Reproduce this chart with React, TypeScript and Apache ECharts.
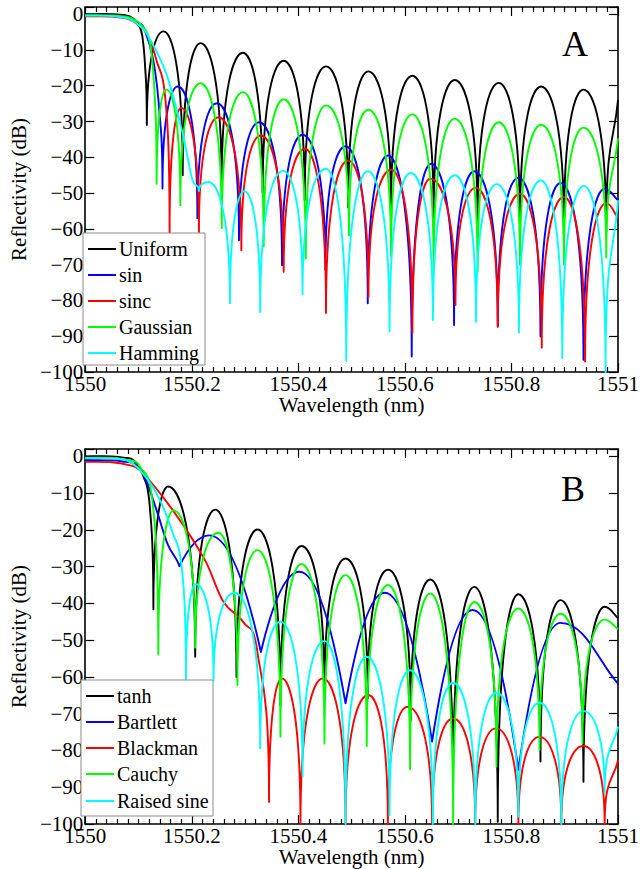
import React, { useEffect, useRef } from 'react';
import * as echarts from 'echarts';

// ---------- Panel A (peaks / nulls) ----------
const uniformX = [1550, 1550.05, 1550.075, 1550.09, 1550.1, 1550.107, 1550.1125, 1550.1156, 1550.147, 1550.183, 1550.2165, 1550.256, 1550.296, 1550.333, 1550.3725, 1550.412, 1550.452, 1550.4936, 1550.5315, 1550.574, 1550.614, 1550.654, 1550.6936, 1550.7364, 1550.776, 1550.816, 1550.8556, 1550.8985, 1550.935, 1550.978, 1551];
const uniformY = [0, 0, -0.3, -1.2, -3, -6, -15, -31, -4.8, -45, -8.1, -48, -10.8, -50, -13, -52, -14.6, -54, -16, -55, -17.2, -57, -18.4, -58, -19.2, -59, -20.2, -60, -21.1, -61, -24];

const sinX = [1550, 1550.05, 1550.08, 1550.1, 1550.1095, 1550.1279, 1550.14, 1550.145, 1550.1738, 1550.2105, 1550.2472, 1550.2886, 1550.3266, 1550.3694, 1550.4079, 1550.4508, 1550.4886, 1550.5303, 1550.5683, 1550.6128, 1550.649, 1550.6923, 1550.7303, 1550.7743, 1550.8128, 1550.8545, 1550.8923, 1550.9352, 1550.9749, 1551];
const sinY = [-0.5, -0.55, -1.2, -2.5, -3.7, -13, -28.8, -48.7, -20.2, -57, -24.9, -63.2, -30.2, -70.2, -33.7, -71.5, -36.9, -80.8, -39.5, -95.7, -41.8, -86.9, -43.9, -87.2, -45.7, -90.1, -47.2, -96.6, -48.8, -52];

const sincX = [1550, 1550.05, 1550.08, 1550.1, 1550.1156, 1550.134, 1550.1523, 1550.1583, 1550.1798, 1550.2134, 1550.2501, 1550.293, 1550.3297, 1550.3725, 1550.4123, 1550.4519, 1550.4936, 1550.5316, 1550.5743, 1550.6141, 1550.6477, 1550.6949, 1550.733, 1550.7743, 1550.816, 1550.8569, 1550.8985, 1550.9382, 1550.978, 1551];
const sincY = [-0.6, -0.65, -1.3, -3, -5.5, -13, -27, -61.2, -26.2, -60.9, -28.8, -66, -33.9, -72, -37.6, -83.5, -40.9, -79, -43.5, -89, -46, -81.3, -48.5, -87.4, -50.2, -93.2, -51.1, -97.1, -52.8, -57];

const gaussX = [1550, 1550.05, 1550.08, 1550.095, 1550.1033, 1550.1217, 1550.1308, 1550.134, 1550.1523, 1550.1785, 1550.2165, 1550.2563, 1550.296, 1550.335, 1550.3725, 1550.414, 1550.452, 1550.495, 1550.5315, 1550.574, 1550.614, 1550.654, 1550.6936, 1550.7364, 1550.776, 1550.816, 1550.8556, 1550.8985, 1550.935, 1550.978, 1551];
const gaussY = [-0.3, -0.35, -0.8, -1.8, -2.7, -8.3, -24, -47.4, -21.1, -53.4, -19.3, -59.8, -21.8, -64.9, -23.8, -68.3, -25.5, -61.8, -26.7, -67.6, -28, -71.5, -29.2, -72, -30.2, -70, -30.9, -70, -31.7, -68, -34.7];

const hammX = [1550, 1550.05, 1550.08, 1550.1, 1550.1156, 1550.1523, 1550.1829, 1550.2013, 1550.2134, 1550.2317, 1550.2716, 1550.2991, 1550.3284, 1550.3712, 1550.4079, 1550.4519, 1550.4899, 1550.5303, 1550.5712, 1550.611, 1550.6526, 1550.6936, 1550.7334, 1550.7725, 1550.8141, 1550.855, 1550.8954, 1550.9358, 1550.9767, 1551];
const hammY = [-0.4, -0.5, -1.2, -3, -5.5, -16.7, -33.4, -46.4, -49.4, -46.9, -80.8, -49.5, -83.2, -43.8, -78.3, -43.2, -96.9, -43.9, -88.7, -44.4, -85.5, -45, -86, -47.5, -89, -46.5, -96.2, -48, -100, -52];

// ---------- Panel B ----------
const tanhX = [1550, 1550.05, 1550.075, 1550.091, 1550.1095, 1550.1217, 1550.1279, 1550.1554, 1550.2064, 1550.244, 1550.2839, 1550.3235, 1550.3664, 1550.406, 1550.449, 1550.4886, 1550.5303, 1550.5683, 1550.611, 1550.6477, 1550.6905, 1550.7303, 1550.7743, 1550.8128, 1550.8545, 1550.8923, 1550.9352, 1550.9749, 1551];
const tanhY = [0, 0, -0.4, -1.1, -5.6, -14.7, -41.6, -8.2, -54.5, -14.5, -60, -19.9, -67.7, -24.4, -65, -27.8, -65.8, -30.8, -71.7, -33.5, -89.4, -35.5, -99.4, -37.5, -83, -39.1, -88.5, -40.9, -44];

const bartX = [1550, 1550.05, 1550.07, 1550.091, 1550.11, 1550.134, 1550.155, 1550.1767, 1550.233, 1550.3297, 1550.402, 1550.4886, 1550.562, 1550.651, 1550.727, 1550.813, 1550.892, 1551];
const bartY = [-1, -1.1, -1.4, -2, -5, -14.7, -24, -29.9, -21.5, -53.2, -31.4, -67.2, -37.1, -77.6, -41.8, -85.3, -45.3, -61.8];

const blackmanX = [1550, 1550.05, 1550.08, 1550.103, 1550.1646, 1550.2257, 1550.259, 1550.299, 1550.3235, 1550.345, 1550.369, 1550.404, 1550.446, 1550.4886, 1550.5315, 1550.568, 1550.605, 1550.651, 1550.6905, 1550.732, 1550.771, 1550.813, 1550.8526, 1550.8936, 1550.935, 1550.975, 1551];
const blackmanY = [-1.5, -1.6, -2.3, -3.8, -14.7, -28.5, -39.5, -45.5, -53.6, -94, -60.4, -100, -60.4, -100, -64.9, -100, -68.1, -100, -71.3, -100, -74, -100, -76.3, -100, -78.8, -100, -82.6];

const cauchyX = [1550, 1550.05, 1550.08, 1550.103, 1550.128, 1550.1371, 1550.166, 1550.2064, 1550.2501, 1550.2857, 1550.3235, 1550.3664, 1550.406, 1550.449, 1550.4886, 1550.5284, 1550.5683, 1550.6097, 1550.6477, 1550.6905, 1550.7303, 1550.7719, 1550.8128, 1550.8527, 1550.8923, 1550.9334, 1550.9749, 1551];
const cauchyY = [-0.4, -0.45, -1, -2.9, -14.7, -53.9, -14.7, -52, -20.8, -62.2, -25.5, -76.3, -29.3, -78.1, -32.3, -78.8, -35, -85.1, -37.3, -100, -39.6, -84.4, -41.4, -79.9, -42.8, -78.1, -44.4, -47];

const raisedX = [1550, 1550.05, 1550.08, 1550.103, 1550.134, 1550.1646, 1550.1829, 1550.189, 1550.2073, 1550.2409, 1550.2807, 1550.3284, 1550.3664, 1550.4079, 1550.449, 1550.4886, 1550.5284, 1550.5712, 1550.6097, 1550.6526, 1550.6905, 1550.7321, 1550.7719, 1550.8128, 1550.8527, 1550.8936, 1550.9352, 1550.9749, 1551];
const raisedY = [-0.5, -0.55, -1.2, -3.8, -10.1, -21, -32.8, -60.9, -34.8, -60.9, -37.1, -79.4, -45, -87, -50.2, -100, -54.5, -97.6, -58.2, -100, -61.6, -100, -64.3, -98, -67, -100, -69.3, -91.7, -73.5];

const legendA = ['Uniform', 'sin', 'sinc', 'Gaussian', 'Hamming'];
const legendB = ['tanh', 'Bartlett', 'Blackman', 'Cauchy', 'Raised sine'];
const colors = ['#000000', '#0000ff', '#ff0000', '#00ff00', '#00ffff'];

const xTickLabels = ['1550', '1550.2', '1550.4', '1550.6', '1550.8', '1551'];

const FONT = 'Liberation Serif';

// Rendering style only: rounded peaks and narrow nulls between the read points.
function lobePath(pts: number[][], vals: number[], a: number, b: number, c: number): string {
  const n = pts.length;
  const kind = vals.map((v, i) =>
    i === 0 || i === n - 1 ? 0 : v > vals[i - 1] && v > vals[i + 1] ? 1 : v < vals[i - 1] && v < vals[i + 1] ? -1 : 0
  );
  const slope = (i: number) => {
    const p = pts[Math.max(0, i - 1)];
    const q = pts[Math.min(n - 1, i + 1)];
    const dx = q[0] - p[0];
    return dx === 0 ? 0 : (q[1] - p[1]) / dx;
  };
  const r = (v: number) => v.toFixed(2);
  let d = `M${r(pts[0][0])} ${r(pts[0][1])}`;
  for (let i = 0; i < n - 1; i++) {
    const P = pts[i];
    const Q = pts[i + 1];
    const dx = Q[0] - P[0];
    const dy = Q[1] - P[1];
    let c1x: number, c1y: number, c2x: number, c2y: number;
    if (kind[i] === 1) { c1x = P[0] + c * dx; c1y = P[1]; }
    else if (kind[i] === -1) { c1x = P[0] + a * dx; c1y = P[1] + b * dy; }
    else { const m = slope(i); c1x = P[0] + dx / 3; c1y = P[1] + (m * dx) / 3; }
    if (kind[i + 1] === 1) { c2x = Q[0] - c * dx; c2y = Q[1]; }
    else if (kind[i + 1] === -1) { c2x = Q[0] - a * dx; c2y = Q[1] - b * dy; }
    else { const m = slope(i + 1); c2x = Q[0] - dx / 3; c2y = Q[1] - (m * dx) / 3; }
    d += ` C${r(c1x)} ${r(c1y)} ${r(c2x)} ${r(c2y)} ${r(Q[0])} ${r(Q[1])}`;
  }
  return d;
}

function makeSeries(name: string, xs: number[], ys: number[], color: string, axis: number, a: number, b: number, c: number) {
  const data = xs.map((x, i) => [x, ys[i]]);
  return {
    type: 'custom',
    name,
    xAxisIndex: axis,
    yAxisIndex: axis,
    data,
    silent: true,
    renderItem: (params: any, api: any) => {
      if (params.dataIndex !== 0) return null;
      const pts = data.map((d) => api.coord(d));
      return {
        type: 'path',
        shape: { pathData: lobePath(pts, ys, a, b, c) },
        style: { fill: 'none', stroke: color, lineWidth: 1.9, lineJoin: 'round' },
      };
    },
  };
}

function xAxisDef(grid: number, pos: string, labels: boolean) {
  return {
    type: 'value',
    gridIndex: grid,
    position: pos,
    min: 1550,
    max: 1551,
    interval: 0.2,
    axisLine: { show: true, onZero: false, lineStyle: { color: '#000', width: 1.6 } },
    axisTick: { show: true, inside: true, length: 9, lineStyle: { color: '#000', width: 1.2 } },
    minorTick: { show: true, splitNumber: 10, length: 5, lineStyle: { color: '#000', width: 1.2 } },
    splitLine: { show: false },
    minorSplitLine: { show: false },
    axisLabel: labels
      ? {
          show: true,
          margin: 1,
          color: '#000',
          fontFamily: FONT,
          fontSize: 21,
          showMinLabel: true,
          showMaxLabel: true,
          formatter: (v: number) => xTickLabels[Math.round((v - 1550) / 0.2)] ?? '',
        }
      : { show: false },
    name: labels ? 'Wavelength (nm)' : '',
    nameLocation: 'middle',
    nameGap: 20,
    nameTextStyle: { color: '#000', fontFamily: FONT, fontSize: 21 },
  };
}

function yAxisDef(grid: number, pos: string, labels: boolean) {
  return {
    type: 'value',
    gridIndex: grid,
    position: pos,
    min: -100,
    max: 2,
    interval: 10,
    axisLine: { show: true, onZero: false, lineStyle: { color: '#000', width: 1.6 } },
    axisTick: { show: true, inside: true, length: 9, lineStyle: { color: '#000', width: 1.2 } },
    splitLine: { show: false },
    axisLabel: labels
      ? {
          show: true,
          margin: 2,
          color: '#000',
          fontFamily: FONT,
          fontSize: 21,
          formatter: (v: number) => (v > 0 ? '' : v < 0 ? '\u2212' + Math.abs(v) : '0'),
        }
      : { show: false },
    name: labels ? 'Reflectivity (dB)' : '',
    nameLocation: 'middle',
    nameRotate: 90,
    nameGap: 50,
    nameTextStyle: { color: '#000', fontFamily: FONT, fontSize: 21 },
  };
}

function legendGraphic(x: number, y: number, w: number, h: number, rows: number[], names: string[]) {
  const els: any[] = [
    { type: 'rect', z: 50, shape: { x, y, width: w, height: h }, style: { fill: '#fff', stroke: '#8c8c8c', lineWidth: 1 } },
  ];
  names.forEach((n, i) => {
    els.push({ type: 'line', z: 51, shape: { x1: x + 5, y1: rows[i], x2: x + 33, y2: rows[i] }, style: { stroke: colors[i], lineWidth: 2 } });
    els.push({ type: 'text', z: 51, x: x + 36, y: rows[i], style: { text: n, fontFamily: FONT, fontSize: 20, fill: '#000', align: 'left', verticalAlign: 'middle' } });
  });
  return els;
}

export default function App() {
  const ref = useRef<HTMLDivElement>(null);
  useEffect(() => {
    if (!ref.current) return;
    const chart = echarts.init(ref.current, null, { renderer: 'svg' });
    const A = 0, B = 0.75, C = 0.42;
    const seriesA = [
      makeSeries(legendA[0], uniformX, uniformY, colors[0], 0, A, B, C),
      makeSeries(legendA[1], sinX, sinY, colors[1], 0, A, B, C),
      makeSeries(legendA[2], sincX, sincY, colors[2], 0, A, B, C),
      makeSeries(legendA[3], gaussX, gaussY, colors[3], 0, A, B, C),
      makeSeries(legendA[4], hammX, hammY, colors[4], 0, A, B, C),
    ];
    const seriesB = [
      makeSeries(legendB[0], tanhX, tanhY, colors[0], 2, A, B, C),
      makeSeries(legendB[1], bartX, bartY, colors[1], 2, 0.2, 0.4, 0.45),
      makeSeries(legendB[2], blackmanX, blackmanY, colors[2], 2, A, B, C),
      makeSeries(legendB[3], cauchyX, cauchyY, colors[3], 2, A, B, C),
      makeSeries(legendB[4], raisedX, raisedY, colors[4], 2, A, B, C),
    ];
    const option: any = {
      animation: false,
      backgroundColor: '#ffffff',
      grid: [
        { left: 77, top: 7, width: 545, height: 365 },
        { left: 77, top: 449, width: 545, height: 375 },
      ],
      xAxis: [xAxisDef(0, 'bottom', true), xAxisDef(0, 'top', false), xAxisDef(1, 'bottom', true), xAxisDef(1, 'top', false)],
      yAxis: [yAxisDef(0, 'left', true), yAxisDef(0, 'right', false), yAxisDef(1, 'left', true), yAxisDef(1, 'right', false)],
      series: [...seriesA, ...seriesB],
      graphic: [
        ...legendGraphic(83, 233, 122, 132, [249, 275, 301, 327, 353], legendA),
        ...legendGraphic(81, 680, 132, 136, [696, 722, 748, 774, 801], legendB),
        { type: 'text', z: 51, x: 575, y: 44, style: { text: 'A', fontFamily: FONT, fontSize: 36, fill: '#000', align: 'center', verticalAlign: 'middle' } },
        { type: 'text', z: 51, x: 573, y: 489, style: { text: 'B', fontFamily: FONT, fontSize: 36, fill: '#000', align: 'center', verticalAlign: 'middle' } },
      ],
    };
    chart.setOption(option);
    return () => chart.dispose();
  }, []);
  return (
    <div
      ref={ref}
      style={{ position: 'fixed', left: 0, top: 0, width: 642, height: 869, background: '#fff' }}
    />
  );
}
